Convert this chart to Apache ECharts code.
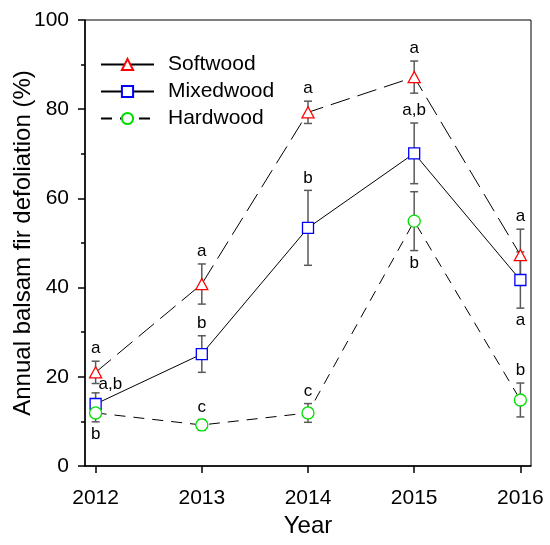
<!DOCTYPE html>
<html>
<head>
<meta charset="utf-8">
<script src="https://cdn.jsdelivr.net/npm/echarts@6/dist/echarts.min.js"></script>
<style>
  html, body { margin: 0; padding: 0; background: #fff; }
  #main { width: 550px; height: 545px; }
</style>
</head>
<body>
<div id="main"></div>
<script>
// values
const years = [2012, 2013, 2014, 2015, 2016]
const softwood = [21.0, 40.8, 79.3, 87.2, 47.3]
const softwoodErr = [2.5, 4.5, 2.5, 3.6, 5.8]
const softwoodLetters = ['a', 'a', 'a', 'a', 'a']
const mixedwood = [13.9, 25.1, 53.4, 70.1, 41.7]
const mixedwoodErr = [2.5, 4.1, 8.4, 6.8, 6.3]
const mixedwoodLetters = ['a,b', 'b', 'b', 'a,b', 'a']
const hardwood = [11.9, 9.2, 11.9, 54.9, 14.8]
const hardwoodErr = [2.0, 1.2, 2.1, 6.6, 3.8]
const hardwoodLetters = ['b', 'c', 'c', 'b', 'b']
const yTicks = [0, 20, 40, 60, 80, 100]

// where each letter sits relative to its error bar
const softwoodWhere = ['top', 'top', 'top', 'top', 'top']
const mixedwoodWhere = ['right', 'top', 'top', 'top', 'bottom']
const hardwoodWhere = ['bottom', 'top', 'top', 'bottom', 'top']

const font = 'Liberation Sans, Arial, sans-serif'

// error bars + significance letters
function errBars(vals, errs, letters, where) {
  return {
    type: 'custom',
    z: 1,
    silent: true,
    clip: false,
    data: years.map((y, i) => [y, vals[i] - errs[i], vals[i] + errs[i]]),
    encode: {x: 0, y: [1, 2]},
    renderItem(params, api) {
      const i = params.dataIndex
      const lo = api.coord([api.value(0), api.value(1)])
      const hi = api.coord([api.value(0), api.value(2)])
      const x = lo[0]
      const w = 4
      const st = {stroke: '#5a5a5a', lineWidth: 1.5}
      let tx = x, ty = hi[1] - 4, va = 'bottom', al = 'center'
      if (where[i] === 'bottom') { ty = lo[1] + 4; va = 'top' }
      if (where[i] === 'right') { tx = x + 3; ty = hi[1] - 9; va = 'middle'; al = 'left' }
      return {
        type: 'group',
        children: [
          {type: 'line', shape: {x1: x, y1: lo[1], x2: x, y2: hi[1]}, style: st},
          {type: 'line', shape: {x1: x - w, y1: lo[1], x2: x + w, y2: lo[1]}, style: st},
          {type: 'line', shape: {x1: x - w, y1: hi[1], x2: x + w, y2: hi[1]}, style: st},
          {type: 'text', x: tx, y: ty, style: {
            text: letters[i], fill: '#000', fontSize: 17, fontFamily: font,
            align: al, verticalAlign: va
          }}
        ]
      }
    }
  }
}

function lineSeries(name, vals, symbol, size, color, dash) {
  return {
    name: name,
    type: 'line',
    z: 3,
    data: years.map((y, i) => [y, vals[i]]),
    symbol: symbol,
    symbolSize: size,
    showAllSymbol: true,
    itemStyle: {color: '#fff', borderColor: color, borderWidth: 1.3},
    lineStyle: {color: '#000', width: 1, type: dash},
    emphasis: {disabled: true}
  }
}

let option = {
  animation: false,
  grid: {left: 85, right: 19, top: 20, bottom: 79, show: true, borderColor: '#000', borderWidth: 1,
    outerBoundsMode: 'none', containLabel: false},
  legend: {
    orient: 'vertical',
    left: 100,
    top: 54,
    padding: 0,
    itemWidth: 53,
    itemHeight: 14,
    itemGap: 6,
    selectedMode: false,
    textStyle: {fontSize: 21, color: '#000', fontFamily: font, padding: [0, 0, 0, 9]},
    data: [
      {name: 'Softwood', lineStyle: {type: 'solid'}},
      {name: 'Mixedwood'},
      {name: 'Hardwood'}
    ]
  },
  xAxis: {
    type: 'value',
    min: 2011.9,
    max: 2016.1,
    name: 'Year',
    nameLocation: 'middle',
    nameGap: 48,
    nameMoveOverlap: false,
    nameTextStyle: {fontSize: 24, color: '#000', fontFamily: font},
    axisLine: {show: true, lineStyle: {color: '#000', width: 1.5}},
    axisTick: {show: true, length: 7, customValues: years, lineStyle: {color: '#000', width: 1.5}},
    axisLabel: {fontSize: 21, color: '#000', fontFamily: font, margin: 22,
      customValues: years, formatter: v => String(v)},
    splitLine: {show: false}
  },
  yAxis: {
    type: 'value',
    min: 0,
    max: 100,
    interval: 20,
    name: 'Annual balsam fir defoliation (%)',
    nameLocation: 'middle',
    nameGap: 50,
    nameMoveOverlap: false,
    nameTextStyle: {fontSize: 24, color: '#000', fontFamily: font},
    axisLine: {show: true, lineStyle: {color: '#000', width: 1.5}},
    axisTick: {show: true, length: 7, lineStyle: {color: '#000', width: 1.5}},
    minorTick: {show: true, splitNumber: 2, length: 4, lineStyle: {color: '#000', width: 1.5}},
    axisLabel: {fontSize: 21, color: '#000', fontFamily: font, margin: 16,
      customValues: yTicks},
    splitLine: {show: false}
  },
  series: [
    errBars(softwood, softwoodErr, softwoodLetters, softwoodWhere),
    errBars(mixedwood, mixedwoodErr, mixedwoodLetters, mixedwoodWhere),
    errBars(hardwood, hardwoodErr, hardwoodLetters, hardwoodWhere),
    lineSeries('Softwood', softwood, 'triangle', [12, 11], '#ff0000', [20, 8]),
    lineSeries('Mixedwood', mixedwood, 'rect', 11, '#0000ff', 'solid'),
    lineSeries('Hardwood', hardwood, 'circle', 12, '#00e000', [11, 8])
  ]
}

echarts.init(document.getElementById('main')).setOption(option)
</script>
</body>
</html>
